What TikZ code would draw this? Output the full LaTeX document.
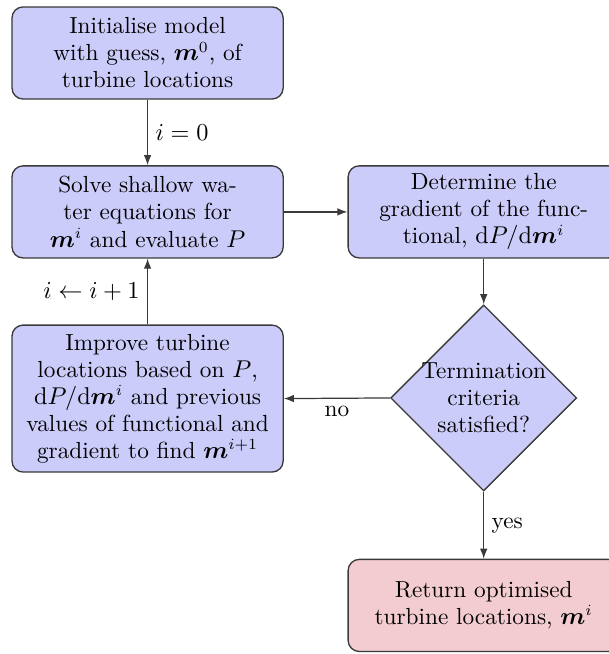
\documentclass[tikz,border=0pt]{standalone}
\usepackage{amsmath}
\usepackage{bm}
\usetikzlibrary{arrows.meta,shapes.geometric}
\definecolor{ink}{HTML}{3A3A3A}
\definecolor{stepfill}{HTML}{CCCCFA}
\definecolor{endfill}{HTML}{F2CCD0}
\tikzset{
  flow/.style={-{Latex[length=1.6mm,width=1.2mm]},draw=ink,line width=.55pt},
  stepbox/.style={draw=ink,fill=stepfill,rounded corners=5pt,line width=.6pt,
    minimum width=4.3cm,minimum height=1.46cm,text width=3.9cm,inner sep=0pt,align=center},
  endbox/.style={stepbox,fill=endfill},
  decision/.style={diamond,draw=ink,fill=stepfill,line width=.6pt,aspect=1,
    minimum width=2.95cm,minimum height=2.95cm,inner sep=-1.2pt,align=center}
}

\begin{document}
\begin{tikzpicture}[x=1cm,y=-1cm,every node/.style={font=\fontsize{10.5}{12.2}\selectfont}]
  \useasboundingbox (0,0) rectangle (9.65,10.37);

  % Left column: start, solve, improve.
  \node[stepbox] (init) at (2.34,.84)
    {Initialise model\\with guess, $\bm{m}^0$, of\\turbine locations};
  \node[stepbox] (solve) at (2.34,3.36)
    {Solve shallow wa-\\ter equations for\\$\bm{m}^i$ and evaluate $P$};
  \node[stepbox,minimum height=2.33cm] (improve) at (2.34,6.32)
    {Improve turbine\\locations based on $P$,\\$\mathrm{d}P/\mathrm{d}\bm{m}^i$ and previous\\values of functional and\\gradient to find $\bm{m}^{i+1}$};

  % Right column: gradient, check, result.
  \node[stepbox] (grad) at (7.67,3.36)
    {Determine the\\gradient of the func-\\tional, $\mathrm{d}P/\mathrm{d}\bm{m}^i$};
  \node[decision] (check) at (7.67,6.31)
    {Termination\\criteria\\satisfied?};
  \node[endbox] (result) at (7.67,9.60)
    {Return optimised\\turbine locations, $\bm{m}^i$};

  % Connectors.
  \draw[flow] (init.south) -- node[right] {$i=0$} (solve.north);
  \draw[flow] (solve.east) -- (grad.west);
  \draw[flow] (grad.south) -- (check.north);
  \draw[flow] (check.west) -- node[below] {no} (improve.east);
  \draw[flow] (improve.north) -- node[left] {$i\leftarrow i+1$} (solve.south);
  \draw[flow] (check.south) -- node[right] {yes} (result.north);
\end{tikzpicture}
\end{document}
